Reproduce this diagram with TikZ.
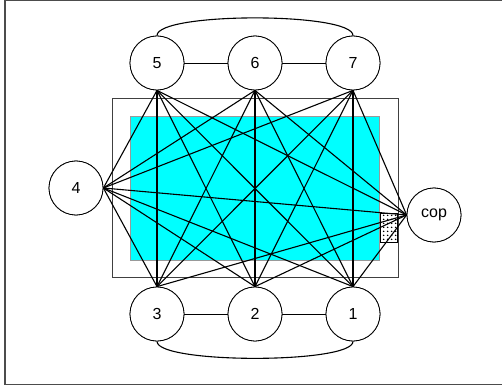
\documentclass[tikz,border=0pt]{standalone}
\usepackage{fontspec}
\setmainfont{Liberation Sans}
\usetikzlibrary{patterns.meta}
\definecolor{aqua}{RGB}{0,255,255}
\begin{document}
\begin{tikzpicture}[x=1pt,y=-1pt,
  vtx/.style={circle,draw,line width=0.8pt,fill=white,minimum size=54pt,inner sep=0pt,font=\fontsize{16}{18}\selectfont},
  edge/.style={line width=1.1pt},
  frame/.style={draw=black!70,line width=1.2pt}]
\useasboundingbox (0,0) rectangle (502,387);
\draw[frame] (5,0.6) rectangle (510,384.5);
\draw[draw=black!75,line width=0.8pt,fill=white] (112,98) rectangle (398,277);
\draw[draw=black!40,line width=0.5pt,fill=aqua] (130,116) rectangle (379,260);
\fill[white] (380,213) rectangle (397,242);
\fill[pattern={Dots[radius=1pt,distance=4pt]}] (380,213) rectangle (397,242);
\draw[line width=0.6pt] (380,213) rectangle (397,242);
\coordinate (c5) at (157,63);
\coordinate (c6) at (255,63);
\coordinate (c7) at (353,63);
\coordinate (c3) at (157,314);
\coordinate (c2) at (255,314);
\coordinate (c1) at (353,314);
\coordinate (c4) at (76,188);
\coordinate (cc) at (434,215);
\path (c5) node[vtx] (n5) {5} (c6) node[vtx] (n6) {6} (c7) node[vtx] (n7) {7}
      (c3) node[vtx] (n3) {3} (c2) node[vtx] (n2) {2} (c1) node[vtx] (n1) {1}
      (c4) node[vtx] (n4) {4} (cc) node[vtx] (ncop) {cop};
\foreach \t in {n5,n6,n7}{
  \foreach \b in {n1,n2,n3}{ \draw[edge] (\t.south) -- (\b.north); }
  \draw[edge] (\t.south) -- (n4.east);
  \draw[edge] (\t.south) -- (ncop.west);
}
\foreach \b in {n1,n2,n3}{
  \draw[edge] (\b.north) -- (n4.east);
  \draw[edge] (\b.north) -- (ncop.west);
}
\draw[edge] (n4.east) -- (ncop.west);
\draw[line width=0.9pt] (n5) -- (n6);
\draw[line width=0.9pt] (n6) -- (n7);
\draw[line width=0.9pt] (n3) -- (n2);
\draw[line width=0.9pt] (n2) -- (n1);
\draw[edge] (n5.north) .. controls (157,12) and (353,12) .. (n7.north);
\draw[edge] (n3.south) .. controls (157,364) and (353,364) .. (n1.south);
\path (c5) node[vtx] {5} (c6) node[vtx] {6} (c7) node[vtx] {7}
      (c3) node[vtx] {3} (c2) node[vtx] {2} (c1) node[vtx] {1}
      (c4) node[vtx] {4} (cc) node[vtx] {cop};
\end{tikzpicture}
\end{document}
